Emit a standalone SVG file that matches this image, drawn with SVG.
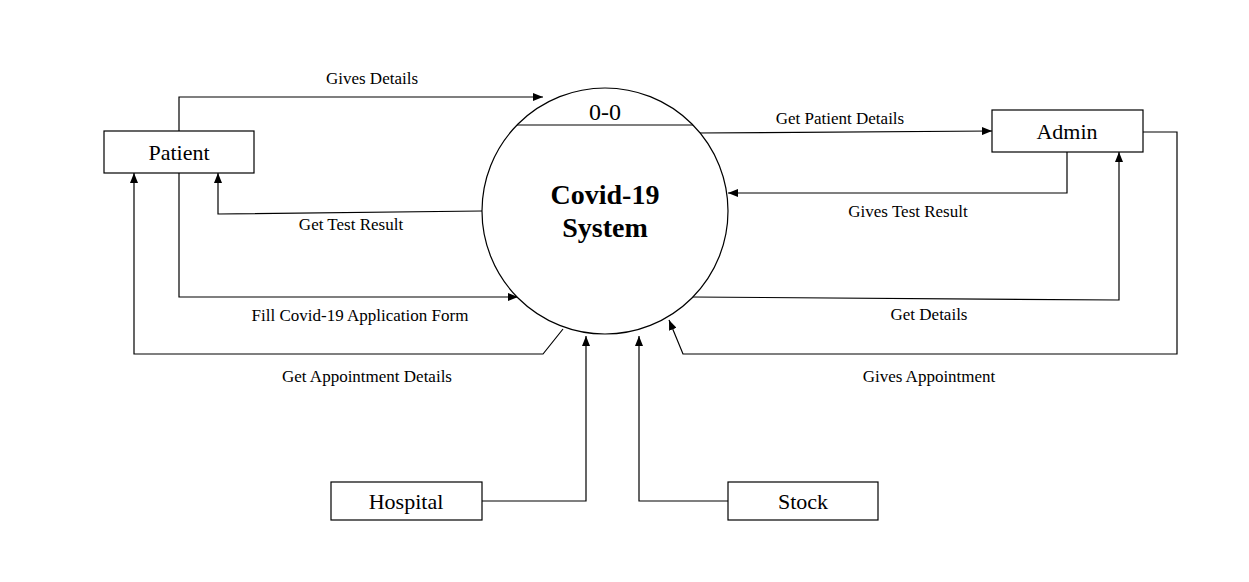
<svg xmlns="http://www.w3.org/2000/svg" width="1249" height="582" viewBox="0 0 1249 582">
<defs>
<marker id="arr" markerUnits="userSpaceOnUse" markerWidth="10" markerHeight="8" refX="10" refY="4" orient="auto">
<path d="M0,0 L10,4 L0,8 z" fill="#000"/>
</marker>
<style>
.box{fill:#fff;stroke:#000;stroke-width:1.2}
.node{font-family:"Liberation Serif","Times New Roman",serif;font-size:22px;fill:#000;text-anchor:middle}
.lbl{font-family:"Liberation Serif","Times New Roman",serif;font-size:17px;fill:#000;text-anchor:middle}
.c{fill:none;stroke:#000;stroke-width:1.2;marker-end:url(#arr)}
.title{font-family:"Liberation Serif","Times New Roman",serif;font-size:28px;font-weight:bold;fill:#000;text-anchor:middle}
</style>
</defs>
<rect width="1249" height="582" fill="#fff"/>
<g id="connectors">
<path class="c" d="M179,131 V97 H543"/>
<path class="c" d="M482,211 L218,214 V173"/>
<path class="c" d="M179,173 V297 H518"/>
<path class="c" d="M563,329 L543,354 H134 V173"/>
<path class="c" d="M697,133 L992,131"/>
<path class="c" d="M1067,152 V193 H728"/>
<path class="c" d="M692,297 L1119,300 V152"/>
<path class="c" d="M1143,132 H1177 V354 H683 L669,320"/>
<path class="c" d="M482,501 H586 V336"/>
<path class="c" d="M728,501 H639 V336"/>
<text class="lbl" x="372" y="84">Gives Details</text>
<text class="lbl" x="351" y="230">Get Test Result</text>
<text class="lbl" x="360" y="321">Fill Covid-19 Application Form</text>
<text class="lbl" x="367" y="382">Get Appointment Details</text>
<text class="lbl" x="840" y="124">Get Patient Details</text>
<text class="lbl" x="908" y="217">Gives Test Result</text>
<text class="lbl" x="929" y="320">Get Details</text>
<text class="lbl" x="929" y="382">Gives Appointment</text>
</g>
<g id="system">
<circle cx="605" cy="211" r="123" fill="#fff" stroke="#000" stroke-width="1.2"/>
<line x1="517" y1="125" x2="693" y2="125" stroke="#000" stroke-width="1.2"/>
<text class="node" x="605" y="120" style="font-size:24px">0-0</text>
<text class="title" x="605" y="204">Covid-19</text>
<text class="title" x="605" y="237">System</text>
</g>
<g id="patient">
<rect class="box" x="104" y="131" width="150" height="42"/>
<text class="node" x="179" y="160">Patient</text>
</g>
<g id="admin">
<rect class="box" x="992" y="110" width="151" height="42"/>
<text class="node" x="1067" y="139">Admin</text>
</g>
<g id="hospital">
<rect class="box" x="331" y="482" width="151" height="38"/>
<text class="node" x="406" y="509">Hospital</text>
</g>
<g id="stock">
<rect class="box" x="728" y="482" width="150" height="38"/>
<text class="node" x="803" y="509">Stock</text>
</g>
</svg>
